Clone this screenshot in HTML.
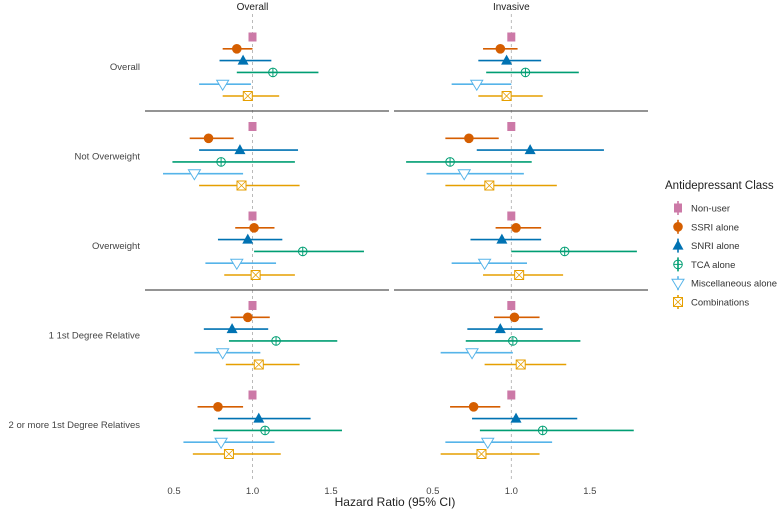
<!DOCTYPE html>
<html><head><meta charset="utf-8"><style>
body{margin:0;background:#fff;font-family:"Liberation Sans",Arial,sans-serif}
svg{display:block}
</style></head><body>
<svg id="c" width="778" height="509" xmlns="http://www.w3.org/2000/svg"></svg>
<script>
const groups=["Overall","Not Overweight","Overweight","1 1st Degree Relative","2 or more 1st Degree Relatives"];
const classes=["Non-user","SSRI alone","SNRI alone","TCA alone","Miscellaneous alone","Combinations"];
const panels=["Overall","Invasive"];
const tickVals=[0.5,1.0,1.5];
const tickLabels=["0.5","1.0","1.5"];
// [panel][group][class] = [hr, lo, hi]
const overallHR=[
 [[1,1,1],[0.90,0.81,1.00],[0.94,0.79,1.12],[1.13,0.90,1.42],[0.81,0.66,0.99],[0.97,0.81,1.17]],
 [[1,1,1],[0.72,0.60,0.88],[0.92,0.66,1.29],[0.80,0.49,1.27],[0.63,0.43,0.94],[0.93,0.66,1.30]],
 [[1,1,1],[1.01,0.89,1.14],[0.97,0.78,1.19],[1.32,1.01,1.71],[0.90,0.70,1.15],[1.02,0.82,1.27]],
 [[1,1,1],[0.97,0.86,1.11],[0.87,0.69,1.10],[1.15,0.85,1.54],[0.81,0.63,1.05],[1.04,0.83,1.30]],
 [[1,1,1],[0.78,0.65,0.94],[1.04,0.78,1.37],[1.08,0.75,1.57],[0.80,0.56,1.14],[0.85,0.62,1.18]]
];
const invasiveHR=[
 [[1,1,1],[0.93,0.82,1.04],[0.97,0.79,1.19],[1.09,0.84,1.43],[0.78,0.62,1.00],[0.97,0.79,1.20]],
 [[1,1,1],[0.73,0.58,0.92],[1.12,0.78,1.59],[0.61,0.33,1.13],[0.70,0.46,1.08],[0.86,0.58,1.29]],
 [[1,1,1],[1.03,0.90,1.19],[0.94,0.74,1.19],[1.34,1.00,1.80],[0.83,0.62,1.10],[1.05,0.82,1.33]],
 [[1,1,1],[1.02,0.89,1.18],[0.93,0.72,1.20],[1.01,0.71,1.44],[0.75,0.55,1.01],[1.06,0.83,1.35]],
 [[1,1,1],[0.76,0.61,0.93],[1.03,0.75,1.42],[1.20,0.80,1.78],[0.85,0.58,1.26],[0.81,0.55,1.18]]
];
const data=[overallHR,invasiveHR];
const colors=["#CC79A7","#D55E00","#0072B2","#009E73","#56B4E9","#E69F00"];
const NS="http://www.w3.org/2000/svg";
const svg=document.getElementById('c');
function mk(t,a,p){const e=document.createElementNS(NS,t);for(const k in a)e.setAttribute(k,a[k]);(p||svg).appendChild(e);return e;}
const panelX=[[145,389],[394,648]];
const origin=[252.5,511.3];
const scale=157;
function xs(p,v){return origin[p]+(v-1)*scale;}
function ys(g,c){return 37+g*89.5+c*11.8;}
function marker(c,x,y,parent){
 const col=colors[c];let e;
 if(c===0){e=mk('rect',{x:x-4,y:y-4.5,width:8,height:9,fill:col},parent);}
 else if(c===1){e=mk('circle',{cx:x,cy:y,r:4.8,fill:col},parent);}
 else if(c===2){e=mk('path',{d:`M${x},${y-6}L${x+5.5},${y+4}L${x-5.5},${y+4}Z`,fill:col},parent);}
 else if(c===3){const g=mk('g',{},parent);mk('circle',{cx:x,cy:y,r:4.3,fill:'none',stroke:col,'stroke-width':1},g);mk('path',{d:`M${x-4.3},${y}H${x+4.3}M${x},${y-4.3}V${y+4.3}`,stroke:col,'stroke-width':1},g);e=g;}
 else if(c===4){e=mk('path',{d:`M${x-6},${y-4}L${x+6},${y-4}L${x},${y+6}Z`,fill:'#fff',stroke:col,'stroke-width':1},parent);}
 else {const g=mk('g',{},parent);mk('rect',{x:x-4.5,y:y-4.5,width:9,height:9,fill:'#fff',stroke:col,'stroke-width':1},g);mk('path',{d:`M${x-4.5},${y-4.5}L${x+4.5},${y+4.5}M${x+4.5},${y-4.5}L${x-4.5},${y+4.5}`,stroke:col,'stroke-width':0.8},g);e=g;}
 return e;
}
panels.forEach((pn,p)=>{
 const t=mk('text',{x:xs(p,1),y:10,'text-anchor':'middle','font-size':10,fill:'#222'});t.textContent=pn;
 
 
 const dl=mk('line',{x1:xs(p,1),x2:xs(p,1),y1:14,y2:482,stroke:'#aaa','stroke-width':0.8,'stroke-dasharray':'3,3'});
 
 
 [111,290].forEach(yy=>{const l=mk('line',{x1:panelX[p][0],x2:panelX[p][1],y1:yy,y2:yy,stroke:'#555','stroke-width':1.2});
  
  });
 tickVals.forEach((v,i)=>{const tl=mk('text',{x:xs(p,v),y:494,'text-anchor':'middle','font-size':9.5,fill:'#444'});tl.textContent=tickLabels[i];
  
  });
 data[p].forEach((grp,g)=>{
  grp.forEach((d,c)=>{
   const y=ys(g,c);
   const gg=mk('g',{});
   
   
   if(c>0) mk('line',{x1:xs(p,d[1]),x2:xs(p,d[2]),y1:y,y2:y,stroke:colors[c],'stroke-width':1.6},gg);
   marker(c,xs(p,d[0]),y,gg);
  });
 });
});
groups.forEach((gn,g)=>{const t=mk('text',{x:140,y:ys(g,2.5)+3.5,'text-anchor':'end','font-size':9.5,fill:'#444'});t.textContent=gn;
 
 });
const at=mk('text',{x:395,y:506,'text-anchor':'middle','font-size':12,fill:'#222'});at.textContent="Hazard Ratio (95% CI)";


const lg=mk('g',{});


const lt=mk('text',{x:665,y:189,'font-size':11.5,fill:'#222'},lg);lt.textContent="Antidepressant Class";
classes.forEach((cn,c)=>{
 const y=208+c*18.8;
 const e=mk('g',{},lg);
 
 
 mk('line',{x1:678,x2:678,y1:y-7,y2:y+7,stroke:colors[c],'stroke-width':1.6},e);
 marker(c,678,y,e);
 const tx=mk('text',{x:691,y:y+3.5,'font-size':9.5,fill:'#333'},e);tx.textContent=cn;
});
</script>
</body></html>
